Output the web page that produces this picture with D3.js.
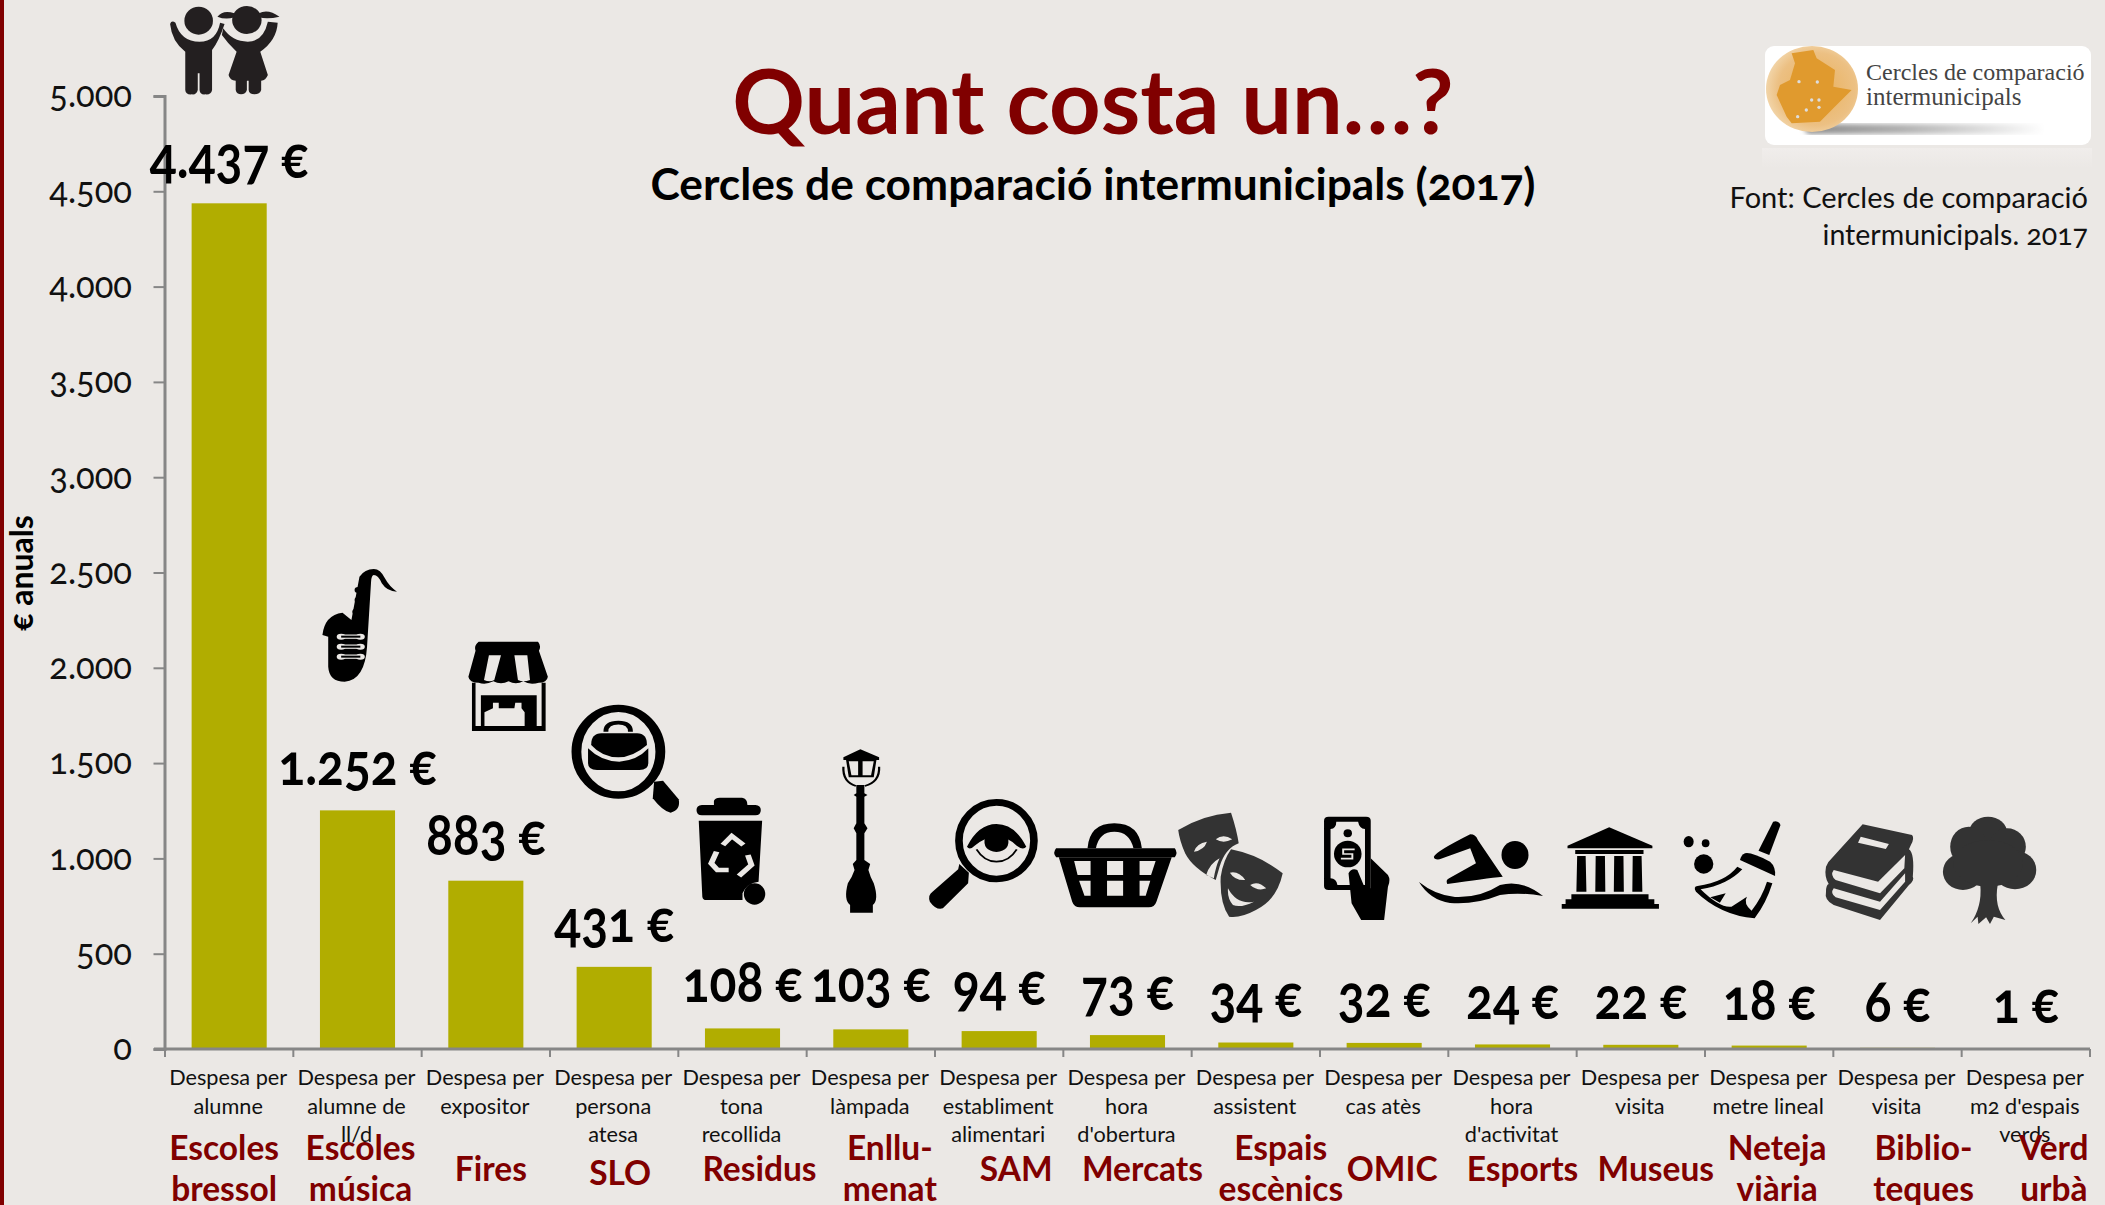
<!DOCTYPE html>
<html><head><meta charset="utf-8"><script src="https://cdn.jsdelivr.net/npm/d3@7"></script>
<style>
html,body{margin:0;padding:0;background:#ebe8e5;overflow:hidden}
svg{display:block}
text{font-family:Lato,"Open Sans",sans-serif;font-feature-settings:"onum" 1;font-variant-numeric:oldstyle-nums}
</style></head><body><svg id="c" width="2105" height="1205"></svg>
<script>
const categories=["Escoles bressol","Escoles música","Fires","SLO","Residus","Enllumenat","SAM","Mercats","Espais escènics","OMIC","Esports","Museus","Neteja viària","Biblioteques","Verd urbà"];
const values=[4437,1252,883,431,108,103,94,73,34,32,24,22,18,6,1];
const yTicks=[0,500,1000,1500,2000,2500,3000,3500,4000,4500,5000];
const descriptions=[["Despesa per","alumne"],["Despesa per","alumne de","ll/d"],["Despesa per","expositor"],["Despesa per","persona","atesa"],["Despesa per","tona","recollida"],["Despesa per","làmpada"],["Despesa per","establiment","alimentari"],["Despesa per","hora","d'obertura"],["Despesa per","assistent"],["Despesa per","cas atès"],["Despesa per","hora","d'activitat"],["Despesa per","visita"],["Despesa per","metre lineal"],["Despesa per","visita"],["Despesa per","m2 d'espais","verds"]];
const serviceLines=[["Escoles","bressol"],["Escoles","música"],["Fires"],["SLO"],["Residus"],["Enllu-","menat"],["SAM"],["Mercats"],["Espais","escènics"],["OMIC"],["Esports"],["Museus"],["Neteja","viària"],["Biblio-","teques"],["Verd","urbà"]];
const valueBaselines=[178,785,855,942,1002,1002,1005,1010,1017,1017,1019,1019,1020,1022,1023];
const serviceOffsets=[-5,3,5,6,17,19,17,15,25,8,10,15,8,26,28];
const singleBaselines={Fires:1181,SLO:1185,Residus:1181,SAM:1181,Mercats:1181,OMIC:1181,Esports:1181,Museus:1181};

const RED="#800000",BG="#ebe8e5",AX="#868686",BAR="#b1ad00",INK="#000";
const svg=d3.select("#c");
const y=d3.scaleLinear().domain([0,5000]).range([1049,96]);
const x=d3.scaleBand().domain(categories).range([165,2090]).paddingInner(.415).paddingOuter(.2075);
const step=x.step(),gapHalf=(step-x.bandwidth())/2;
const loc=d3.formatLocale({decimal:",",thousands:".",grouping:[3],currency:["","€"]});
const fmt=loc.format(",d");

svg.append("rect").attr("width",2105).attr("height",1205).attr("fill",BG);
svg.append("rect").attr("width",4).attr("height",1205).attr("fill",RED);

// bars
svg.selectAll("rect.bar").data(values).join("rect").attr("class","bar")
 .attr("x",(d,i)=>x(categories[i])).attr("width",x.bandwidth())
 .attr("y",d=>y(d)).attr("height",d=>y(0)-y(d)).attr("fill",BAR);

// y axis
const gy=svg.append("g").attr("transform","translate(164.5,0)")
 .call(d3.axisLeft(y).tickValues(yTicks).tickFormat(fmt).tickSize(11).tickPadding(21));
gy.selectAll("path").attr("stroke",AX).attr("stroke-width",3);
gy.selectAll("line").attr("stroke",AX).attr("stroke-width",2);
gy.selectAll("text").attr("x",0).attr("font-size",36).attr("fill","#111").attr("dy","0.3em")
 .attr("transform","translate(-32.5,0) scale(.96,1)");

// x axis
const xEdges=categories.map(c=>x(c)-gapHalf).concat([x(categories[14])+x.bandwidth()+gapHalf]);
svg.append("g").selectAll("line").data(xEdges).join("line")
 .attr("x1",d=>d).attr("x2",d=>d).attr("y1",y(0)).attr("y2",y(0)+8).attr("stroke",AX).attr("stroke-width",2);
svg.append("line").attr("x1",154).attr("x2",2090).attr("y1",y(0)).attr("y2",y(0)).attr("stroke",AX).attr("stroke-width",3);

// value labels
svg.append("g").selectAll("text").data(values).join("text")
 .attr("transform",(d,i)=>`translate(${x(categories[i])+x.bandwidth()/2},${valueBaselines[i]}) scale(.86,1)`)
 .attr("text-anchor","middle").attr("font-weight",700).attr("font-size",58).attr("fill",INK)
 .text(d=>fmt(d)+" €");

// descriptions
descriptions.forEach((ls,i)=>ls.forEach((t,j)=>{
 svg.append("text").attr("x",x(categories[i])+x.bandwidth()/2-1).attr("y",1085+j*28.5)
  .attr("text-anchor","middle").attr("font-size",21.7).attr("fill","#111").text(t);
}));
// service names
serviceLines.forEach((ls,i)=>ls.forEach((t,j)=>{
 const yy=ls.length===1?singleBaselines[t]:1160+j*41;
 svg.append("text").attr("x",x(categories[i])+x.bandwidth()/2+serviceOffsets[i]).attr("y",yy)
  .attr("text-anchor","middle").attr("font-size",33.5).attr("font-weight",700).attr("fill",RED).text(t);
}));

// titles
svg.append("text").attr("x",1093).attr("y",134).attr("text-anchor","middle").attr("font-size",90).attr("font-weight",700).attr("fill",RED).text("Quant costa un…?");
svg.append("text").attr("x",1093).attr("y",200).attr("text-anchor","middle").attr("font-size",44.3).attr("font-weight",700).attr("fill",INK).text("Cercles de comparació intermunicipals (2017)");
svg.append("text").attr("transform","translate(33,573) rotate(-90)").attr("text-anchor","middle").attr("font-size",32).attr("font-weight",700).attr("fill",INK).text("€ anuals");
svg.append("text").attr("x",2088).attr("y",208).attr("text-anchor","end").attr("font-size",29).attr("fill","#111").text("Font: Cercles de comparació");
svg.append("text").attr("x",2088).attr("y",245).attr("text-anchor","end").attr("font-size",28.5).attr("fill","#111").text("intermunicipals. 2017");

// logo
const defs=svg.append("defs");
const rg=defs.append("radialGradient").attr("id","globe").attr("cx",.55).attr("cy",.5).attr("r",.6);
rg.append("stop").attr("offset",0).attr("stop-color","#e9b05a");
rg.append("stop").attr("offset",.7).attr("stop-color","#ecc083");
rg.append("stop").attr("offset",1).attr("stop-color","#f4dcb6");
const sg=defs.append("linearGradient").attr("id","shade");
sg.append("stop").attr("offset",0).attr("stop-color","#8a8a8a");
sg.append("stop").attr("offset",.4).attr("stop-color","#b0b0b0");
sg.append("stop").attr("offset",1).attr("stop-color","#fff");
const rf=defs.append("linearGradient").attr("id","refl").attr("x1",0).attr("x2",0).attr("y1",0).attr("y2",1);
rf.append("stop").attr("offset",0).attr("stop-color","#f0edeb");
rf.append("stop").attr("offset",1).attr("stop-color",BG);
defs.append("filter").attr("id","blur").append("feGaussianBlur").attr("stdDeviation",2.5);
svg.append("rect").attr("x",1762).attr("y",148).attr("width",330).attr("height",20).attr("fill","url(#refl)");
svg.append("rect").attr("x",1765).attr("y",46).attr("width",326).attr("height",99).attr("rx",9).attr("fill","#fff");
svg.append("rect").attr("x",1805).attr("y",124).attr("width",240).attr("height",10).attr("rx",5).attr("fill","url(#shade)").attr("filter","url(#blur)");
svg.append("ellipse").attr("cx",1812).attr("cy",89).attr("rx",46).attr("ry",43).attr("fill","url(#globe)");
const lg=svg.append("g").attr("transform","translate(1700,20) scale(.3333)");
lg.append("path").attr("fill","#e09a2e").attr("d","M275,100 L340,90 L350,115 L405,150 L400,200 L455,210 L400,265 L360,305 L275,310 L260,290 L230,225 L240,195 L270,180 L285,130Z");
[[297,185],[352,186],[335,240],[357,240],[319,270],[357,262],[293,290]].forEach(p=>lg.append("circle").attr("cx",p[0]).attr("cy",p[1]).attr("r",5).attr("fill","#ddd"));
svg.append("text").attr("x",1866).attr("y",80).attr("font-size",24).attr("fill","#444").style("font-family","'Liberation Serif'").text("Cercles de comparació");
svg.append("text").attr("x",1866).attr("y",105).attr("font-size",25).attr("fill","#444").style("font-family","'Liberation Serif'").text("intermunicipals");

// icons: shapes traced in crop coordinates, placed by origin + scale
function icon(ox,oy,sx,sy,fill,build){
 const g=svg.append("g").attr("transform",`translate(${ox},${oy}) scale(${sx},${sy})`).attr("fill",fill);
 const P=(d,f,extra)=>{const p=g.append("path").attr("d",d).attr("fill-rule","evenodd");if(f)p.attr("fill",f);if(extra)for(const k in extra)p.attr(k,extra[k]);return p;};
 const E=(cx,cy,rx,ry,f,extra)=>{const e=g.append("ellipse").attr("cx",cx).attr("cy",cy).attr("rx",rx).attr("ry",ry);if(f)e.attr("fill",f);if(extra)for(const k in extra)e.attr(k,extra[k]);return e;};
 build(P,E);
}
const Z1=[1/2.24,1/3],Z6=[1/2.613,1/3],Z7=[1/2.592,1/3];
// children
icon(0,0,Z1[0],Z1[1],"#231f20",(P,E)=>{
 E(445,62,32,42);E(553,60,33,42);
 P("M525,40 Q500,28 487,50 Q505,60 525,52Z M580,40 Q600,25 626,50 Q600,58 580,52Z");
 P("M381,72 Q384,60 393,68 Q405,125 447,125 Q485,125 493,68 L503,72 Q490,125 475,150 L475,270 Q473,285 460,283 Q448,285 447,270 L447,220 L443,220 L443,270 Q440,285 430,283 Q416,285 415,270 L415,155 Q385,125 381,72Z");
 P("M500,85 Q520,125 555,125 Q590,125 600,65 L622,68 Q620,120 583,155 L600,225 Q595,242 585,242 L585,270 Q582,283 570,283 Q558,283 557,270 L557,242 L553,242 L553,270 Q550,283 540,283 Q530,283 528,270 L528,242 Q515,242 512,225 L530,155 Q510,130 497,105Z");
});
// zoom 5 icons
icon(280,540,Z1[0],Z1[1],"#000",(P,E)=>{
 // saxophone
 P("M210,87 Q225,87 235,115 Q245,140 262,155 Q240,155 228,130 Q220,105 210,105 Q205,105 204,125 L195,320 Q190,420 145,425 Q110,425 108,380 L108,290 L95,285 Q100,225 140,218 L160,240 L178,110 Q190,87 210,87Z");
 E(175,150,8,9);E(175,180,8,9);E(170,215,8,9);
 [290,320,350].forEach(v=>{
  [[137,v],[180,v]].forEach(c=>E(c[0],c[1],10,9,BG));
  P(`M137,${v} L180,${v}`,"none",{stroke:BG,"stroke-width":13});
  P(`M137,${v} L180,${v}`,"none",{stroke:"#000","stroke-width":6});
 });
 // shop
 P("M445,305 L578,305 Q586,318 580,332 L600,410 Q598,428 580,428 Q560,436 545,424 Q528,436 512,424 Q495,436 478,424 Q460,436 445,428 Q424,428 422,410 L438,332 Q434,316 445,305Z M468,346 L457,420 Q470,428 480,420 L495,346Z M525,346 L533,420 Q545,428 560,420 L554,346Z");
 P("M430,428 L438,428 L438,558 L450,558 L450,466 L575,466 L575,558 L586,558 L586,428 L595,428 L595,573 L430,573Z");
 P("M458,517 L477,505 L477,488 L490,488 L490,505 L525,505 L527,488 L541,488 L541,505 L548,517 L548,558 L458,558Z",BG);
 // magnifier with bag
 E(758,635,94,130,"none",{stroke:"#000","stroke-width":22});
 P("M838,725 L858,722 L893,778 Q898,810 875,818 Q858,815 835,775Z");
 P("M697,615 Q697,580 720,580 L800,580 Q822,580 822,615 Q790,652 758,652 Q722,652 697,615Z");
 P("M690,625 Q720,665 760,665 Q800,662 825,625 L825,670 Q825,690 805,690 L710,690 Q690,690 690,670Z");
 P("M730,575 Q730,548 758,548 Q785,548 785,575","none",{stroke:"#000","stroke-width":11});
 // bin
 P("M972,795 L972,782 Q975,773 985,773 L1035,773 Q1047,775 1047,795 L1065,795 Q1077,797 1077,810 Q1077,826 1065,826 L945,826 Q933,826 933,810 Q933,797 945,795Z");
 P("M938,842 L1080,842 L1072,1025 Q1045,1030 1036,1060 L1036,1080 L955,1080 Q947,1080 946,1070Z");
 E(1063,1062,24,32);
 P("M992,915 L1012,888 L1038,915","none",{stroke:BG,"stroke-width":13});
 P("M978,935 L966,970 L980,990 L1005,990","none",{stroke:BG,"stroke-width":13});
 P("M1048,945 L1056,975 L1028,1008","none",{stroke:BG,"stroke-width":13});
 // lamp
 P("M1291,735 L1309,735 L1309,760 L1316,765 L1309,770 L1309,850 L1316,865 L1309,880 L1309,960 L1322,972 L1318,990 Q1322,1010 1330,1030 Q1342,1080 1328,1095 L1328,1118 L1277,1118 L1277,1095 Q1262,1080 1272,1030 Q1282,1010 1287,990 L1283,972 L1291,960 L1291,880 L1285,865 L1291,850 L1291,770 L1285,765 L1291,760Z");
 P("M1262,652 L1300,628 L1342,652 L1342,660 L1262,660Z");
 P("M1268,660 L1274,712 L1330,712 L1336,660Z M1274,664 L1295,664 L1295,706 L1280,706Z M1305,664 L1330,664 L1324,706 L1305,706Z");
 P("M1262,680 Q1260,725 1290,738 M1342,680 Q1344,725 1310,738","none",{stroke:"#000","stroke-width":5});
});
// zoom 6 icons
icon(900,780,Z6[0],Z6[1],"#000",(P,E)=>{
 E(252,182,98,115,"none",{stroke:"#000","stroke-width":20});
 P("M155,252 L180,278 L178,310 L112,385 Q95,392 78,365 Q72,345 85,335 L152,268Z");
 P("M175,200 Q205,132 252,132 Q300,132 330,200 Q322,212 305,197 Q280,170 252,168 Q225,170 195,197 Q182,212 175,200Z");
 P("M222,172 Q252,155 282,172 Q290,212 252,216 Q214,212 222,172Z");
 P("M200,208 Q220,245 252,245 Q285,245 305,208","none",{stroke:"#000","stroke-width":5});
 // basket
 P("M408,205 L718,205 Q727,218 718,232 L408,232 Q398,218 408,205Z");
 P("M490,205 Q495,130 560,130 Q625,130 632,205 L610,205 Q600,155 560,155 Q520,155 512,205Z");
 P("M415,232 L710,232 L670,365 Q665,382 650,382 L470,382 Q455,382 450,365Z M455,243 L498,243 L498,285 L464,285Z M541,243 L583,243 L583,285 L541,285Z M626,243 L668,243 L656,285 L626,285Z M468,302 L498,302 L498,347 L482,347Z M541,302 L583,302 L583,347 L541,347Z M626,302 L654,302 L642,347 L626,347Z");
 // hand + money
 P("M1120,110 L1218,110 Q1230,110 1230,122 L1230,330 L1120,330 Q1108,330 1108,318 L1108,122 Q1108,110 1120,110Z M1140,125 Q1140,145 1125,147 L1125,295 Q1140,295 1143,315 L1215,315 L1215,147 Q1200,145 1197,125Z");
 E(1170,160,11,12);E(1170,222,36,40);
 P("M1188,208 L1158,208 L1158,222 L1182,222 L1182,236 L1152,236","none",{stroke:BG,"stroke-width":5});
 P("M1230,235 L1275,285 Q1283,300 1275,320 L1265,420 L1205,420 L1180,370 L1172,280 Q1180,262 1195,270 L1215,325 L1230,325Z");
 // swimmer arm
 P("M1395,230 Q1400,215 1490,163 Q1505,163 1510,180 L1575,290 Q1530,295 1430,312 Q1425,300 1435,295 L1505,250 L1490,205 L1410,238 Q1395,240 1395,230Z");
});
icon(900,780,Z6[0],Z6[1],"#333",(P,E)=>{
 P("M727,150 Q790,105 865,98 Q880,150 885,190 Q850,205 835,260 L825,300 Q765,265 745,220 Q730,180 727,150Z M768,215 Q775,190 802,185 Q795,210 768,215Z M825,178 Q845,160 868,178 Q845,192 825,178Z M800,285 Q810,250 835,235 Q825,260 820,295Z");
 P("M865,208 Q940,225 1000,280 Q985,360 930,390 Q890,415 860,410 Q835,370 838,290 Q845,240 865,208Z M862,278 Q885,272 902,300 Q875,302 862,278Z M915,315 Q935,300 957,325 Q935,335 915,315Z M857,325 Q880,375 925,365 Q890,385 870,375 Q855,355 857,325Z");
});
// swimmer head and wave
icon(0,0,1,1,"#000",(P,E)=>{
 E(1515,855,13.5,14);
 P("M1419,882 Q1435,895 1455,897 Q1480,898 1500,885 Q1522,879 1543,896 Q1520,892 1500,895 Q1475,905 1450,903 Q1430,900 1419,882Z");
});
// zoom 7 icons
icon(1500,780,Z7[0],Z7[1],"#000",(P,E)=>{
 P("M175,197 L283,142 L395,197 L395,205 L175,205Z");
 P("M195,210 H372 V222 H195Z M200,228 H222 L224,335 H198Z M248,228 H272 L273,335 H247Z M296,228 H320 L321,335 H295Z M344,228 H367 L369,335 H343Z");
 P("M185,343 H385 V358 H400 V372 H412 V386 H160 V372 H170 V358 H185Z");
 E(489,185,13,17);E(533,190,10,12);E(528,252,25,29);
 P("M708,125 Q722,120 727,135 L698,225 L670,212Z");
 P("M635,220 Q650,215 700,245 Q715,260 713,288 L622,240 Q625,225 635,220Z");
 P("M615,260 L628,268 Q590,315 520,328 Q570,385 600,380 L640,350 Q630,370 652,392 Q680,350 692,305 L706,310 Q690,370 660,415 Q570,405 508,335 Q500,320 512,318 Q585,305 615,260Z M545,352 L585,340 L570,368Z");
});
icon(1500,780,Z7[0],Z7[1],"#333",(P,E)=>{
 P("M940,133 L1068,165 Q1075,175 1065,195 L1060,208 Q1075,220 1070,290 Q1075,300 1060,315 L985,420 L865,375 Q840,360 845,335 Q845,315 852,312 Q840,290 845,260 Q850,245 860,235Z M935,170 L1008,192 L1000,207 L928,188Z M865,270 L980,305 L1050,225 L1048,265 L985,340 L870,300 Q855,285 865,270Z M865,325 L985,365 L1050,280 L1050,305 L985,390 L870,352 Q855,340 865,325Z");
 E(1265,160,50,50);E(1215,200,48,60);E(1315,200,48,55);E(1200,275,52,55);E(1335,270,55,58);E(1265,250,90,70);
 P("M1245,315 L1290,315 Q1280,380 1310,420 L1280,410 L1270,432 L1260,412 L1240,432 L1238,410 L1220,430 Q1250,380 1245,315Z");
});
</script></body></html>
